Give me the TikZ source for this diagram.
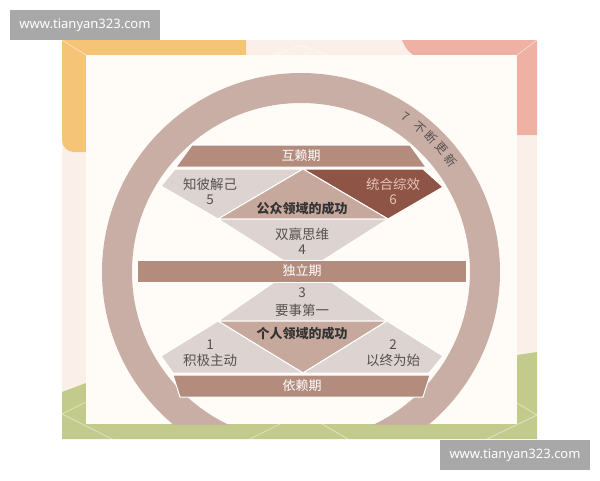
\documentclass[tikz,border=0pt]{standalone}
\usepackage{fontspec}
\setmainfont{Noto Sans}
\newfontfamily\cjk{Noto Sans CJK SC}
\usetikzlibrary{calc}

\definecolor{framepale}{HTML}{FBF0E9}
\definecolor{frameorange}{HTML}{F6C476}
\definecolor{framesalmon}{HTML}{EFB1A4}
\definecolor{framegreen}{HTML}{C3CB8C}
\definecolor{panelwhite}{HTML}{FFFCF8}
\definecolor{ringcol}{HTML}{C9AEA5}
\definecolor{bandcol}{HTML}{B38C7E}
\definecolor{reglight}{HTML}{DDD3D1}
\definecolor{regmid}{HTML}{C7A89C}
\definecolor{regdark}{HTML}{8E5445}
\definecolor{textgray}{HTML}{555050}
\definecolor{textpink}{HTML}{E6C2B8}
\definecolor{markgray}{HTML}{A8A8A8}

\tikzset{
  region/.style={draw=white, line width=1pt},
  bandtext/.style={text=white, font=\cjk\fontsize{13}{13}\selectfont},
  regtext/.style={text=textgray, font=\cjk\fontsize{13.5}{14}\selectfont},
  boldtext/.style={text=black!80, font=\cjk\bfseries\fontsize{13}{13}\selectfont},
  ringtext/.style={text=textgray, font=\cjk\fontsize{12}{12}\selectfont, inner sep=0pt},
  marktext/.style={text=white, font=\fontsize{13}{13}\selectfont},
  faint/.style={white, opacity=0.6, line width=0.6pt}
}

\begin{document}
\begin{tikzpicture}[x=1pt, y=-1pt]
			\useasboundingbox (0,0) rectangle (600,480);
			
			\fill[framepale] (62,40) rectangle (537,439);
			\fill[frameorange] (62,40) -- (246,40) -- (246,152) -- (74,152) arc[start angle=90, end angle=180, radius=12] -- cycle;
			\fill[framesalmon] (402,40) -- (537,40) -- (537,135) -- (420,135) -- (420,58) .. controls (410,55) and (405,48) .. (402,40) -- cycle;
			\fill[framegreen] (62,392) -- (86,383) -- (517,355) -- (537,352) -- (537,439) -- (62,439) -- cycle;
			\draw[faint] (62,40) -- (86,55);
			\draw[faint] (537,40) -- (517,55);
			\draw[faint] (275,55) -- (301,45) -- (327,55);
			\draw[faint] (86,402) -- (62,414) -- (112,439);
			\draw[faint] (517,403) -- (537,415) -- (487,439);
			\draw[faint] (250,439) -- (280,424);
			\draw[faint] (322,424) -- (348,439);
			\fill[panelwhite] (86,55) rectangle (517,424);
			
			\begin{scope}
				\clip (86,55) rectangle (517,424);
				\draw[ringcol, line width=30pt] (301,272) circle[radius=184];
			\end{scope}
			\coordinate (ringc) at (301,272);
			\foreach \ch/\ang [count=\i] in {7/56, 不/50.5, 断/45.9, 更/41.3, 新/36.7}
				\node[ringtext, rotate=\ang-90] (ring\i) at ($(ringc)+(-\ang:187)$) {\ch};
			
			\filldraw[fill=bandcol, region] (192,145) -- (410,145) -- (426,167) -- (176,167) -- cycle;
			\node[bandtext] (hulai) at (301,156) {互赖期};
			\filldraw[fill=reglight, region] (175,169) -- (303,169) -- (218,219) -- (161,186) -- cycle;
			\filldraw[fill=regdark, region] (303,169) -- (423,169) -- (443,187) -- (388,219) -- cycle;
			\filldraw[fill=regmid, region] (303,169) -- (388,219) -- (218,219) -- cycle;
			\filldraw[fill=reglight, region] (218,219) -- (388,219) -- (303,273) -- cycle;
			\node[regtext] (zhibi) at (210,184) {知彼解己};
			\node[regtext] (num5) at (210,200) {5};
			\node[regtext, text=textpink] (tonghe) at (393,184) {统合综效};
			\node[regtext, text=textpink] (num6) at (393,200) {6};
			\node[boldtext] (gongzhong) at (302,209) {公众领域的成功};
			\node[regtext] (shuangying) at (302,234) {双赢思维};
			\node[regtext] (num4) at (302,250) {4};
			
			\filldraw[fill=reglight, region] (303,262) -- (387,321) -- (218,321) -- cycle;
			\filldraw[fill=regmid, region] (218,321) -- (387,321) -- (303,373) -- cycle;
			\filldraw[fill=reglight, region] (218,321) -- (303,373) -- (173,373) -- (161,356) -- cycle;
			\filldraw[fill=reglight, region] (387,321) -- (443,356) -- (429,373) -- (303,373) -- cycle;
			\node[regtext] (num3) at (302,293) {3};
			\node[regtext] (yaoshi) at (302,310) {要事第一};
			\node[boldtext] (geren) at (302,334) {个人领域的成功};
			\node[regtext] (num1) at (210,345) {1};
			\node[regtext] (jiji) at (210,360) {积极主动};
			\node[regtext] (num2) at (393,345) {2};
			\node[regtext] (yizhong) at (393,360) {以终为始};
			
			\filldraw[fill=bandcol, region] (137,260) rectangle (466,282);
			\node[bandtext] (duli) at (302,271) {独立期};
			
			\filldraw[fill=bandcol, region] (173,375) -- (430,375) -- (423,397) -- (180,397) -- cycle;
			\node[bandtext] (yilai) at (302,386) {依赖期};
			
			\fill[markgray] (10,10) rectangle (160,40);
			\node[marktext] (mark1) at (85,25) {www.tianyan323.com};
			\fill[markgray] (440,440) rectangle (590,470);
			\node[marktext] (mark2) at (515,455) {www.tianyan323.com};
		
		\end{tikzpicture}
\end{document}
